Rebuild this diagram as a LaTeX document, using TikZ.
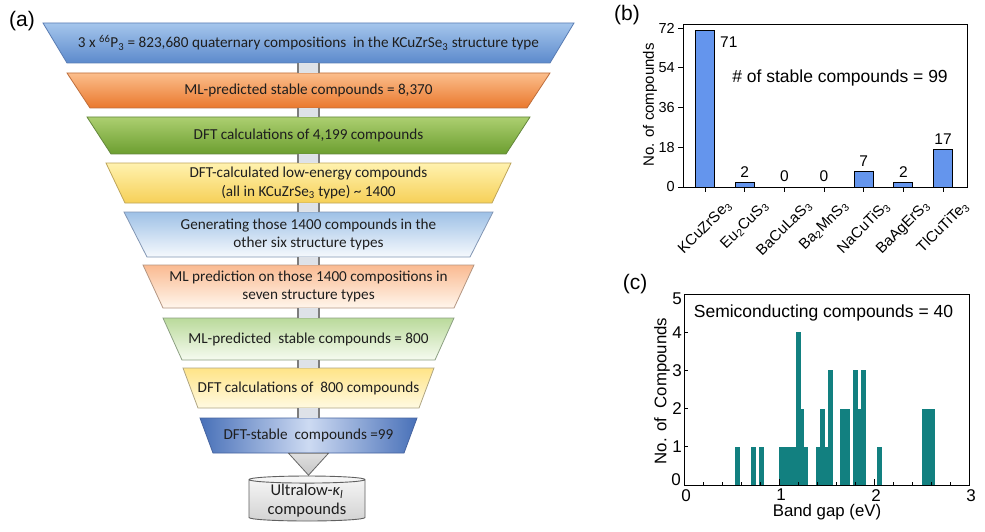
\documentclass[tikz,border=0pt]{standalone}
\usepackage{fontspec}
\usepackage{graphicx}
\setmainfont{Liberation Sans}
\newfontfamily\carlito{Carlito}
\usetikzlibrary{shapes.geometric,calc}
\definecolor{b1t}{RGB}{165,198,236}\definecolor{b1b}{RGB}{92,138,204}\definecolor{b1d}{RGB}{90,125,180}
\definecolor{b2t}{RGB}{251,190,140}\definecolor{b2b}{RGB}{234,120,45}\definecolor{b2d}{RGB}{190,110,60}
\definecolor{b3t}{RGB}{172,207,112}\definecolor{b3b}{RGB}{108,158,48}\definecolor{b3d}{RGB}{100,135,60}
\definecolor{b4t}{RGB}{255,242,175}\definecolor{b4b}{RGB}{246,208,88}\definecolor{b4d}{RGB}{190,165,90}
\definecolor{b5t}{RGB}{158,193,230}\definecolor{b5b}{RGB}{246,249,253}\definecolor{b5d}{RGB}{130,150,180}
\definecolor{b6t}{RGB}{250,186,145}\definecolor{b6b}{RGB}{255,246,236}\definecolor{b6d}{RGB}{180,150,130}
\definecolor{b7t}{RGB}{186,218,155}\definecolor{b7b}{RGB}{246,251,240}\definecolor{b7d}{RGB}{140,160,130}
\definecolor{b8t}{RGB}{255,228,135}\definecolor{b8b}{RGB}{255,250,226}\definecolor{b8d}{RGB}{175,165,130}
\definecolor{b9s}{RGB}{72,112,184}\definecolor{b9m}{RGB}{205,218,242}\definecolor{b9d}{RGB}{70,100,160}
\definecolor{connfill}{RGB}{222,226,232}\definecolor{connside}{RGB}{125,125,125}
\definecolor{barblue}{RGB}{100,149,237}\definecolor{histteal}{RGB}{18,128,128}
\definecolor{ftextc}{RGB}{30,30,30}
\newcommand{\fbx}[8]{%
  \shadedraw[#6, draw=#7, line width=0.8pt] ({308.5-#4},#2) -- ({308.5+#4},#2) -- ({308.5+#5},#3) -- ({308.5-#5},#3) -- cycle;
  \node[ftext, minimum height={(#3-#2)*1pt}] (#1) at (308.5,{(#2+#3)/2}) {#8};}
\newcommand{\conn}[2]{%
  \fill[connfill] ($(#1.south)+(-11.5,0)$) rectangle ($(#2.north)+(11.5,0)$);
  \draw[connside, line width=2.2pt] ($(#1.south)+(-10.5,0)$) -- ($(#2.north)+(-10.5,0)$);
  \draw[connside, line width=2.2pt] ($(#1.south)+(10.5,0)$) -- ($(#2.north)+(10.5,0)$);}
\begin{document}
\begin{tikzpicture}[x=1pt,y=-1pt,
  ftext/.style={font=\carlito\fontsize{15.2}{18.5}\selectfont, text=ftextc, align=center, inner sep=0pt},
  panel/.style={font=\fontsize{21}{24}\selectfont, inner sep=0pt},
  tick/.style={font=\fontsize{14.5}{17}\selectfont, inner sep=0pt},
  xtick/.style={font=\fontsize{15}{17}\selectfont, inner sep=0pt},
  vlab/.style={font=\fontsize{15.5}{18}\selectfont, inner sep=0pt},
  ctick/.style={font=\fontsize{17}{20}\selectfont, inner sep=0pt},
  big/.style={font=\fontsize{17.5}{20}\selectfont, inner sep=0pt},
  axl/.style={font=\fontsize{15}{18}\selectfont, inner sep=0pt},
  caxl/.style={font=\fontsize{16.8}{19}\selectfont, inner sep=0pt}]
\useasboundingbox (0,0) rectangle (985,532);
\fill[white] (0,0) rectangle (985,532);
% ---------- panel (a) ----------
\node[panel] (la) at (22,21) {(a)};
\fbx{b1}{23}{63}{265.5}{241.5}{top color=b1t, bottom color=b1b}{b1d}{3 x \textsuperscript{66}P\textsubscript{3} = 823,680 quaternary compositions~ in the KCuZrSe\textsubscript{3} structure type}
\fbx{b2}{73}{108}{241.5}{218.5}{top color=b2t, bottom color=b2b}{b2d}{ML-predicted stable compounds = 8,370}
\fbx{b3}{117}{154}{221.5}{197.5}{top color=b3t, bottom color=b3b}{b3d}{DFT calculations of 4,199 compounds}
\fbx{b4}{163}{203}{202.5}{183.5}{top color=b4t, bottom color=b4b}{b4d}{DFT-calculated low-energy compounds\\(all in KCuZrSe\textsubscript{3} type) \textasciitilde{} 1400}
\fbx{b5}{212}{257}{184.5}{161.5}{top color=b5t, bottom color=b5b}{b5d}{Generating those 1400 compounds in the\\other six structure types}
\fbx{b6}{265}{308}{165.5}{145.5}{top color=b6t, bottom color=b6b}{b6d}{ML prediction on those 1400 compositions in\\seven structure types}
\fbx{b7}{318}{360}{145.5}{126.5}{top color=b7t, bottom color=b7b}{b7d}{ML-predicted~ stable compounds = 800}
\fbx{b8}{368}{408}{125.5}{110.5}{top color=b8t, bottom color=b8b}{b8d}{DFT calculations of~ 800 compounds}
\fbx{b9}{418}{453}{108.5}{95.5}{left color=b9s, right color=b9s, middle color=b9m}{b9d}{DFT-stable~ compounds =99}
\conn{b1}{b2}\conn{b2}{b3}\conn{b3}{b4}\conn{b4}{b5}\conn{b5}{b6}\conn{b6}{b7}\conn{b7}{b8}\conn{b8}{b9}
\shadedraw[top color=gray!25, bottom color=gray!45, draw=gray!80!black, line width=0.8pt]
  ($(b9.south)+(-20,0)$) -- ($(b9.south)+(20,0)$) -- ($(b9.south)+(0,22)$) -- cycle;
\node[cylinder, shape border rotate=90, aspect=0.09, minimum width=116pt, minimum height=45pt,
  draw=gray!75!black, line width=0.9pt, top color=gray!6, bottom color=gray!35, inner sep=0pt,
  font=\carlito\fontsize{16.5}{18.5}\selectfont, text=ftextc, align=center] (cyl) at (307,500.5)
  {Ultralow-{\itshape κ}\textsubscript{\itshape l}\\compounds};
% ---------- panel (b) ----------
\node[panel] (lb) at (627,15) {(b)};
\foreach \v [count=\i from 0] in {71,2,0,0,7,2,17} {
  \ifnum\v>0
    \filldraw[fill=barblue, draw=black, line width=0.8pt] ({705+39.667*\i-9.5},187) rectangle ({705+39.667*\i+9.5},{187-2.2083*\v});
  \fi
  \draw[line width=0.8pt] ({705+39.667*\i},187) -- ({705+39.667*\i},192);
}
\draw[line width=1pt] (683,25) rectangle (967,187);
\foreach \t in {0,18,36,54,72} {
  \draw[line width=0.8pt] (683,{187-2.2083*\t}) -- (678,{187-2.2083*\t});
  \node[tick, anchor=east] (yt\t) at (675,{187-2.2083*\t}) {\t};
}
\node[vlab, anchor=west] (v0) at (720,42) {71};
\foreach \v [count=\i from 1] in {2,0,0,7,2,17} {
  \node[vlab, anchor=south] (v\i) at ({705+39.667*\i},{187-2.2083*\v-5}) {\v};
}
\node[big] (stab) at (840,78) {\# of stable compounds = 99};
\node[axl, rotate=90] (ylb) at (650,105) {No. of compounds};
\foreach \n [count=\i from 0] in {KCuZrSe\textsubscript{3},Eu\textsubscript{2}CuS\textsubscript{3},BaCuLaS\textsubscript{3},Ba\textsubscript{2}MnS\textsubscript{3},NaCuTiS\textsubscript{3},BaAgErS\textsubscript{3},TlCuTiTe\textsubscript{3}} {
  \node[xtick, anchor=north] (xl\i) at ({705+39.667*\i},199) {\rotatebox{45}{\n}};
}
% ---------- panel (c) ----------
\node[panel] (lc) at (635,284) {(c)};
\foreach \a/\b/\h in {0.54/0.59/1,0.71/0.76/1,0.79/0.84/1,1.00/1.18/1,1.18/1.23/4,1.23/1.265/2,1.265/1.31/1,
  1.39/1.435/1,1.435/1.48/2,1.48/1.52/1,1.52/1.565/3,1.645/1.745/2,1.78/1.83/3,1.83/1.865/2,1.865/1.915/3,
  2.035/2.085/1,2.5/2.645/2} {
  \fill[histteal] ({684+95*\a},485) rectangle ({684+95*\b},{485-38.2*\h});
}
\draw[line width=1pt] (684,294) rectangle (969,485);
\foreach \t in {0,1,2,3} {
  \draw[line width=0.8pt] ({684+95*\t},485) -- ++(0,-6);
  \node[ctick, anchor=north] (cx\t) at ({686+95*\t},489) {\t};
}
\foreach \t in {0.2,0.4,0.6,0.8,1.2,1.4,1.6,1.8,2.2,2.4,2.6,2.8} {
  \draw[line width=0.7pt] ({684+95*\t},485) -- ++(0,-3);
}
\foreach \t in {1,2,3,4} {
  \draw[line width=0.8pt] (684,{485-38.2*\t}) -- ++(4,0);
  \node[ctick, anchor=east] (cy\t) at (682,{485-38.2*\t}) {\t};
}
\node[ctick, anchor=east] (cy0) at (681,480) {0};
\node[ctick, anchor=east] (cy5) at (682,299) {5};
\node[big] (semi) at (823.5,313) {Semiconducting compounds = 40};
\node[caxl, rotate=90] (ylc) at (662,391) {No. of~ Compounds};
\node[caxl] (xlc) at (827,512) {Band gap (eV)};
\end{tikzpicture}
\end{document}
